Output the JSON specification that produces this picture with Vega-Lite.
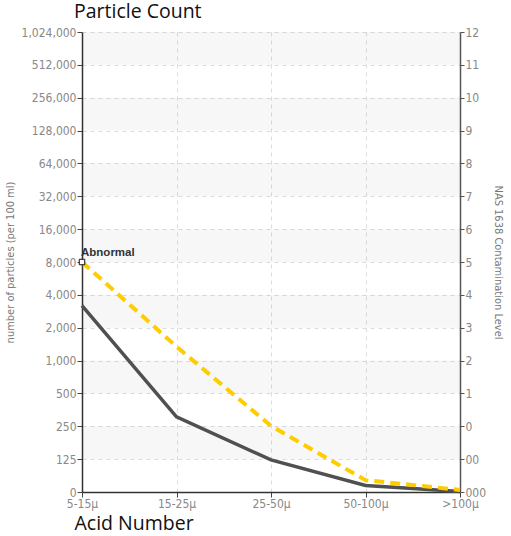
{
  "$schema": "https://vega.github.io/schema/vega-lite/v6.json",
  "width": 378,
  "height": 460,
  "autosize": {"type": "none"},
  "padding": {"left": 82, "top": 32, "right": 51, "bottom": 44},
  "background": "white",
  "config": {"view": {"stroke": null}},
  "title": {
    "text": "Particle Count",
    "anchor": "start",
    "frame": "group",
    "dx": -8,
    "dy": 11,
    "offset": 0,
    "baseline": "alphabetic",
    "font": "Open Sans",
    "fontSize": 19.5,
    "fontWeight": "normal",
    "color": "#111"
  },
  "datasets": {
    "lines": [
      {"size": "5-15μ", "series": "Sample", "count": 3350},
      {"size": "15-25μ", "series": "Sample", "count": 322},
      {"size": "25-50μ", "series": "Sample", "count": 122},
      {"size": "50-100μ", "series": "Sample", "count": 25},
      {"size": ">100μ", "series": "Sample", "count": 2},
      {"size": "5-15μ", "series": "NAS Class 5", "count": 8000},
      {"size": "15-25μ", "series": "NAS Class 5", "count": 1425},
      {"size": "25-50μ", "series": "NAS Class 5", "count": 253},
      {"size": "50-100μ", "series": "NAS Class 5", "count": 45},
      {"size": ">100μ", "series": "NAS Class 5", "count": 8}
    ],
    "bands": [
      {"lo": 512000, "hi": 1024000},
      {"lo": 128000, "hi": 256000},
      {"lo": 32000, "hi": 64000},
      {"lo": 8000, "hi": 16000},
      {"lo": 2000, "hi": 4000},
      {"lo": 500, "hi": 1000},
      {"lo": 125, "hi": 250}
    ],
    "marker": [
      {"size": "5-15μ", "count": 8000, "label": "Abnormal"}
    ]
  },
  "resolve": {"scale": {"y": "independent"}},
  "layer": [
    {
      "data": {"name": "bands"},
      "mark": {"type": "rect", "color": "#000000", "opacity": 0.032},
      "encoding": {
        "x": {"value": 0},
        "x2": {"value": "width"},
        "y": {"field": "lo", "type": "quantitative",
          "scale": {"domain": [0,125,250,500,1000,2000,4000,8000,16000,32000,64000,128000,256000,512000,1024000],
            "range": [460,427.143,394.286,361.429,328.571,295.714,262.857,230,197.143,164.286,131.429,98.571,65.714,32.857,0],
            "nice": false, "zero": false, "clamp": true},
          "axis": null},
        "y2": {"field": "hi"}
      }
    },
    {
      "data": {"name": "lines"},
      "transform": [{"filter": "datum.series == 'Sample'"}],
      "mark": {"type": "line", "color": "#505050", "strokeWidth": 3.5},
      "encoding": {
        "x": {"field": "size", "type": "ordinal",
          "sort": ["5-15μ", "15-25μ", "25-50μ", "50-100μ", ">100μ"],
          "scale": {"type": "point", "padding": 0},
          "axis": {
            "title": "Acid Number",
            "titleAnchor": "start",
            "titleAlign": "left",
            "titleX": -8,
            "titleY": 37,
            "titleBaseline": "alphabetic",
            "titleFont": "Open Sans",
            "titleFontSize": 19.5,
            "titleFontWeight": "normal",
            "titleColor": "#111",
            "labelAngle": 0,
            "labelFont": "Liberation Sans Narrow, DejaVu Sans Condensed, Roboto, sans-serif",
            "labelFontSize": 12,
            "labelColor": "#888888",
            "labelPadding": 1,
            "tickSize": 5,
            "tickColor": "#444444",
            "domainColor": "#333333",
            "domainWidth": 1.5,
            "grid": true,
            "gridColor": "#dddddd",
            "gridDash": [4, 4]
          }},
        "y": {"field": "count", "type": "quantitative",
          "scale": {"domain": [0,125,250,500,1000,2000,4000,8000,16000,32000,64000,128000,256000,512000,1024000],
            "range": [460,427.143,394.286,361.429,328.571,295.714,262.857,230,197.143,164.286,131.429,98.571,65.714,32.857,0],
            "nice": false, "zero": false, "clamp": true},
          "axis": {
            "orient": "left",
            "values": [0,125,250,500,1000,2000,4000,8000,16000,32000,64000,128000,256000,512000,1024000],
            "labelExpr": "format(datum.value, ',')",
            "title": "number of particles (per 100 ml)",
            "titleX": -72,
            "titleY": 230,
            "titleAlign": "center",
            "titleBaseline": "middle",
            "titleFont": "Liberation Sans Narrow, DejaVu Sans Condensed, Roboto, sans-serif",
            "titleFontSize": 11,
            "titleFontWeight": "normal",
            "titleColor": "#777777",
            "labelFont": "Liberation Sans Narrow, DejaVu Sans Condensed, Roboto, sans-serif",
            "labelFontSize": 12,
            "labelColor": "#888888",
            "labelPadding": 1,
            "tickSize": 5,
            "tickColor": "#444444",
            "domainColor": "#333333",
            "domainWidth": 1.5,
            "grid": true,
            "gridColor": "#dddddd",
            "gridDash": [4, 4]
          }}
      }
    },
    {
      "data": {"name": "lines"},
      "transform": [{"filter": "datum.series == 'NAS Class 5'"}],
      "mark": {"type": "line", "color": "#FFCC00", "strokeWidth": 4, "strokeDash": [10, 6]},
      "encoding": {
        "x": {"field": "size", "type": "ordinal", "sort": ["5-15μ", "15-25μ", "25-50μ", "50-100μ", ">100μ"]},
        "y": {"field": "count", "type": "quantitative",
          "scale": {"domain": [0,125,250,500,1000,2000,4000,8000,16000,32000,64000,128000,256000,512000,1024000],
            "range": [460,427.143,394.286,361.429,328.571,295.714,262.857,230,197.143,164.286,131.429,98.571,65.714,32.857,0],
            "nice": false, "zero": false, "clamp": true},
          "axis": null}
      }
    },
    {
      "data": {"name": "marker"},
      "mark": {"type": "point", "shape": "square", "filled": true, "fill": "white", "stroke": "#111111", "strokeWidth": 1, "size": 30, "opacity": 1},
      "encoding": {
        "x": {"field": "size", "type": "ordinal", "sort": ["5-15μ", "15-25μ", "25-50μ", "50-100μ", ">100μ"]},
        "y": {"field": "count", "type": "quantitative",
          "scale": {"domain": [0,125,250,500,1000,2000,4000,8000,16000,32000,64000,128000,256000,512000,1024000],
            "range": [460,427.143,394.286,361.429,328.571,295.714,262.857,230,197.143,164.286,131.429,98.571,65.714,32.857,0],
            "nice": false, "zero": false, "clamp": true},
          "axis": {
            "orient": "right",
            "values": [0,125,250,500,1000,2000,4000,8000,16000,32000,64000,128000,256000,512000,1024000],
            "labelExpr": "datum.value == 0 ? '000' : datum.value == 125 ? '00' : toString(round(log(datum.value / 250) / log(2)))",
            "title": "NAS 1638 Contamination Level",
            "titleAngle": 90,
            "titleX": 37,
            "titleY": 230,
            "titleAlign": "center",
            "titleBaseline": "middle",
            "titleFont": "Liberation Sans Narrow, DejaVu Sans Condensed, Roboto, sans-serif",
            "titleFontSize": 11,
            "titleFontWeight": "normal",
            "titleColor": "#777777",
            "labelFont": "Liberation Sans Narrow, DejaVu Sans Condensed, Roboto, sans-serif",
            "labelFontSize": 12,
            "labelColor": "#888888",
            "labelPadding": 1,
            "tickSize": 4,
            "tickColor": "#555555",
            "domainColor": "#555555",
            "domainWidth": 1.5,
            "grid": false
          }}
      }
    },
    {
      "data": {"name": "marker"},
      "mark": {"type": "text", "align": "left", "baseline": "alphabetic", "dx": -1, "dy": -6, "font": "Liberation Sans", "fontSize": 11.5, "fontWeight": "bold", "color": "#333333"},
      "encoding": {
        "x": {"field": "size", "type": "ordinal", "sort": ["5-15μ", "15-25μ", "25-50μ", "50-100μ", ">100μ"]},
        "y": {"field": "count", "type": "quantitative",
          "scale": {"domain": [0,125,250,500,1000,2000,4000,8000,16000,32000,64000,128000,256000,512000,1024000],
            "range": [460,427.143,394.286,361.429,328.571,295.714,262.857,230,197.143,164.286,131.429,98.571,65.714,32.857,0],
            "nice": false, "zero": false, "clamp": true},
          "axis": null},
        "text": {"field": "label"}
      }
    }
  ]
}
